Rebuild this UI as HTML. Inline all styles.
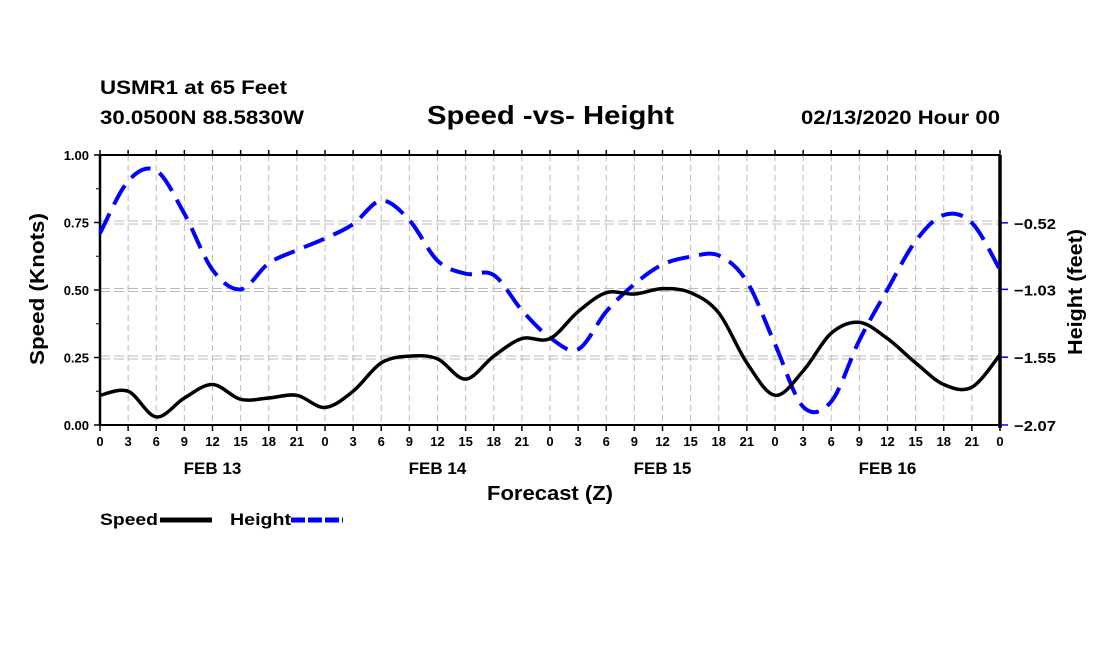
<!DOCTYPE html>
<html><head><meta charset="utf-8"><style>
body{margin:0;background:#fff;}
svg{display:block;font-family:"Liberation Sans",Arial,sans-serif;font-weight:bold;}
</style></head><body>
<svg id="chart" width="1100" height="650" viewBox="0 0 1100 650" xmlns="http://www.w3.org/2000/svg">
<rect width="1100" height="650" fill="#fff"/>
<text x="100" y="94" font-size="19" textLength="187" lengthAdjust="spacingAndGlyphs">USMR1 at 65 Feet</text>
<text x="100" y="124" font-size="19" textLength="204" lengthAdjust="spacingAndGlyphs">30.0500N 88.5830W</text>
<text x="427" y="124" font-size="26" textLength="247" lengthAdjust="spacingAndGlyphs">Speed -vs- Height</text>
<text x="801" y="124" font-size="19" textLength="199" lengthAdjust="spacingAndGlyphs">02/13/2020 Hour 00</text>
<g id="grid"></g>
<g id="axes"></g>
<g id="series"></g>
<text x="487" y="500" font-size="20" textLength="126" lengthAdjust="spacingAndGlyphs">Forecast (Z)</text>
<text transform="translate(44,365) rotate(-90)" font-size="20" textLength="152" lengthAdjust="spacingAndGlyphs">Speed (Knots)</text>
<text transform="translate(1082,355) rotate(-90)" font-size="20" textLength="126" lengthAdjust="spacingAndGlyphs">Height (feet)</text>
<g>
<text x="100" y="525" font-size="17" textLength="58" lengthAdjust="spacingAndGlyphs">Speed</text>
<line x1="160" y1="520" x2="212" y2="520" stroke="#000" stroke-width="5"/>
<text x="230" y="525" font-size="17" textLength="61" lengthAdjust="spacingAndGlyphs">Height</text>
<line x1="291" y1="520" x2="343" y2="520" stroke="#00f" stroke-width="5" stroke-dasharray="14 3"/>
</g>
</svg>
<script>
const hours = [0,3,6,9,12,15,18,21,24,27,30,33,36,39,42,45,48,51,54,57,60,63,66,69,72,75,78,81,84,87,90,93,96];
const speedValues = [0.11,0.125,0.03,0.10,0.15,0.095,0.10,0.11,0.065,0.125,0.23,0.255,0.245,0.17,0.255,0.32,0.32,0.42,0.49,0.485,0.505,0.49,0.415,0.23,0.11,0.20,0.34,0.38,0.32,0.23,0.15,0.14,0.26];
const heightValues = [-0.60,-0.20,-0.12,-0.45,-0.88,-1.03,-0.83,-0.73,-0.64,-0.53,-0.35,-0.50,-0.81,-0.91,-0.92,-1.19,-1.40,-1.49,-1.20,-0.99,-0.84,-0.78,-0.77,-0.97,-1.45,-1.93,-1.89,-1.42,-1.03,-0.66,-0.46,-0.52,-0.88];
const speedTicks = [0,0.25,0.5,0.75,1.0];
const speedTickLabels = ["0.00","0.25","0.50","0.75","1.00"];
const heightTicks = [-0.52,-1.03,-1.55,-2.07];
const xTickLabels = ["0","3","6","9","12","15","18","21"];
const dayLabels = ["FEB 13","FEB 14","FEB 15","FEB 16"];

const X0=100,X1=1000,Y0=425,Y1=155;
const HMIN=-2.07,HMAX=0;
const xScale=h=>X0+(h/96)*(X1-X0);
const ySpeed=v=>Y0-(v/1.0)*(Y0-Y1);
const yHeight=v=>Y0-((v-HMIN)/(HMAX-HMIN))*(Y0-Y1);
const NS="http://www.w3.org/2000/svg";
function mk(tag,attrs,parent){const e=document.createElementNS(NS,tag);for(const k in attrs)e.setAttribute(k,attrs[k]);parent.appendChild(e);return e;}
const grid=document.getElementById('grid'),axes=document.getElementById('axes'),series=document.getElementById('series');

for(let h=0;h<=96;h+=3){
  const x=xScale(h);
  if(h>0&&h<96){const l=mk('line',{x1:x,y1:Y1,x2:x,y2:Y0,stroke:'#bbb','stroke-width':1,'stroke-dasharray':'6 4'},grid);
  
  }
  const t=mk('line',{x1:x,y1:Y0,x2:x,y2:Y0+6,stroke:'#000','stroke-width':1.5},axes);
  
  
  const tt=mk('line',{x1:x,y1:Y1,x2:x,y2:Y1-5,stroke:'#000','stroke-width':1.5},axes);
  
  
  const lab=mk('text',{x:x,y:Y0+21,'font-size':13,'text-anchor':'middle'},axes);
  lab.textContent = h===96?"0":xTickLabels[(h%24)/3];
  
  
}
dayLabels.forEach((d,i)=>{
  const t=mk('text',{x:xScale(i*24+12),y:Y0+49,'font-size':17,'text-anchor':'middle'},axes);
  t.textContent=d;
  
  
});
speedTicks.forEach((v,i)=>{
  const y=ySpeed(v);
  if(v>0&&v<1){[-1.5,1.5].forEach(o=>{const g=mk('line',{x1:X0,y1:y+o,x2:X1,y2:y+o,stroke:'#bbb','stroke-width':1,'stroke-dasharray':'10 4'},grid);
  
  });}
  const t=mk('line',{x1:X0-6,y1:y,x2:X0,y2:y,stroke:'#000','stroke-width':1.5},axes);
  
  
  const l=mk('text',{x:X0-11,y:y+5,'font-size':13,'text-anchor':'end'},axes);
  l.textContent=speedTickLabels[i];
  
  
});
for(let v=0.125;v<1;v+=0.25){const t=mk('line',{x1:X0-4,y1:ySpeed(v),x2:X0,y2:ySpeed(v),stroke:'#000','stroke-width':1},axes);

}
heightTicks.forEach(v=>{
  const y=yHeight(v);
  const b=mk('line',{x1:X1,y1:y,x2:X1+8,y2:y,stroke:'#00f','stroke-width':1.5},axes);
  
  
  const l=mk('text',{x:X1+14,y:y+6,'font-size':15,textLength:42,lengthAdjust:'spacingAndGlyphs'},axes);
  l.textContent=v.toFixed(2).replace('-','\u2212');
  
  
});
[[X0,Y0,X1,Y0,2],[X0,Y1,X1,Y1,2],[X0,Y1,X0,Y0,2.5],[X1,Y1,X1,Y0+3,3.5]].forEach(a=>{
  const l=mk('line',{x1:a[0],y1:a[1],x2:a[2],y2:a[3],stroke:'#000','stroke-width':a[4]},axes);
  
  
});
function smooth(pts){
  let d=`M${pts[0][0]},${pts[0][1]}`;
  for(let i=0;i<pts.length-1;i++){
    const p0=pts[Math.max(0,i-1)],p1=pts[i],p2=pts[i+1],p3=pts[Math.min(pts.length-1,i+2)];
    const c1=[p1[0]+(p2[0]-p0[0])/6,p1[1]+(p2[1]-p0[1])/6],c2=[p2[0]-(p3[0]-p1[0])/6,p2[1]-(p3[1]-p1[1])/6];
    d+=` C${c1[0]},${c1[1]} ${c2[0]},${c2[1]} ${p2[0]},${p2[1]}`;
  }
  return d;
}
const hp=mk('path',{d:smooth(hours.map((h,i)=>[xScale(h),yHeight(heightValues[i])])),fill:'none',stroke:'#00f','stroke-width':4,'stroke-dasharray':'22 10'},series);


const sp=mk('path',{d:smooth(hours.map((h,i)=>[xScale(h),ySpeed(speedValues[i])])),fill:'none',stroke:'#000','stroke-width':3.5},series);


</script>
</body></html>
